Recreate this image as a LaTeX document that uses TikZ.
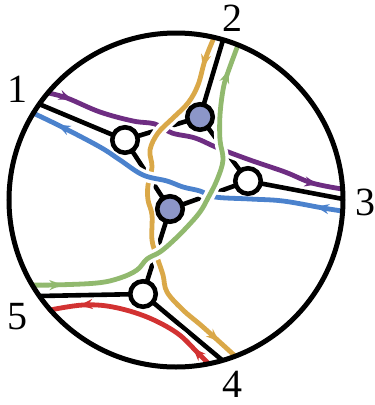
\documentclass[tikz,border=0pt]{standalone}
\usepackage{fontspec}
\setmainfont{Liberation Serif}
\usetikzlibrary{decorations.markings, arrows.meta}
\definecolor{cpurple}{HTML}{6E2D82}
\definecolor{cblue}{HTML}{4B82CD}
\definecolor{cgold}{HTML}{DAA848}
\definecolor{cgreen}{HTML}{91B96E}
\definecolor{cred}{HTML}{D23232}
\definecolor{cvert}{HTML}{8C96C8}
\tikzset{
  edge/.style={line width=4.6pt, draw=black},
  strand/.style={color=#1, line width=4.8pt, line cap=round,
    preaction={draw=white, line width=11.5pt}},
  twoarrows/.style 2 args={postaction={decorate, decoration={markings,
    mark=at position #1 with {\arrow{Stealth[length=13pt,width=10pt]}},
    mark=at position #2 with {\arrow{Stealth[length=13pt,width=10pt]}}}}},
  whitevert/.style={circle, draw=black, fill=white, line width=4.6pt, minimum size=25.5pt, inner sep=0pt},
  bluevert/.style={circle, draw=black, fill=cvert, line width=4.6pt, minimum size=25.5pt, inner sep=0pt},
  lab/.style={inner sep=0pt, font=\fontsize{40}{42}\selectfont}
}
\begin{document}
\begin{tikzpicture}[x=1pt,y=-1pt]
\useasboundingbox (0,0) rectangle (375,405);
% boundary points
\coordinate (p1) at (39,104);
\coordinate (p2) at (223,40);
\coordinate (p3) at (343,199);
\coordinate (p4) at (222,360);
\coordinate (p5) at (39,296);
% internal vertices
\coordinate (A) at (125,140);
\coordinate (B) at (200,117);
\coordinate (C) at (248,181);
\coordinate (D) at (170,209);
\coordinate (E) at (143,294);
% graph edges
\draw[edge] (p1) -- (A);
\draw[edge] (p2) -- (B);
\draw[edge] (p3) -- (C);
\draw[edge] (p4) -- (E);
\draw[edge] (p5) -- (E);
\draw[edge] (A) -- (B);
\draw[edge] (B) -- (C);
\draw[edge] (C) -- (D);
\draw[edge] (D) -- (A);
\draw[edge] (D) -- (E);
% strands
\draw[strand=cpurple, twoarrows={0.08}{0.92}] plot[smooth, tension=0.6] coordinates
  {(48,93) (67,98) (100,112) (133,121) (155,124) (172,133) (195,138) (218,148) (250,160) (285,172) (312,183) (342,189)};
\draw[strand=cgold, twoarrows={0.08}{0.945}] plot[smooth, tension=0.6] coordinates
  {(213,40) (205,60) (198,85) (188,103) (173,118) (158,133) (150,150) (152,167) (148,185) (148,200) (152,215) (152,240) (157,257) (163,275) (167,292) (183,310) (203,327) (234,355)};
\draw[strand=cblue, twoarrows={0.08}{0.918}] plot[smooth, tension=0.6] coordinates
  {(342,211) (323,208) (283,201) (250,199) (215,197) (200,191) (183,187) (167,181) (143,175) (120,160) (100,147) (62,127) (33,113)};
\draw[strand=cgreen, twoarrows={0.08}{0.927}] plot[smooth, tension=0.6] coordinates
  {(33,285) (53,285) (97,283) (120,278) (137,270) (147,259) (160,252) (173,241) (187,227) (200,212) (208,198) (217,180) (223,160) (220,140) (220,115) (223,90) (227,75) (238,45)};
\draw[strand=cred, twoarrows={0.12}{0.83}] plot[smooth, tension=0.6] coordinates
  {(208,363) (197,352) (177,333) (147,317) (113,307) (83,305) (50,310)};
% vertices
\node[whitevert] (vA) at (A) {};
\node[bluevert] (vB) at (B) {};
\node[whitevert] (vC) at (C) {};
\node[bluevert] (vD) at (D) {};
\node[whitevert] (vE) at (E) {};
% boundary circle
\node[circle, draw=black, line width=5pt, minimum size=334pt, inner sep=0pt] (disk) at (176,200) {};
% labels
\node[lab] (l1) at (18,89) {1};
\node[lab] (l2) at (232,18) {2};
\node[lab] (l3) at (365,202) {3};
\node[lab] (l4) at (232,384) {4};
\node[lab] (l5) at (17,317) {5};
\end{tikzpicture}
\end{document}
